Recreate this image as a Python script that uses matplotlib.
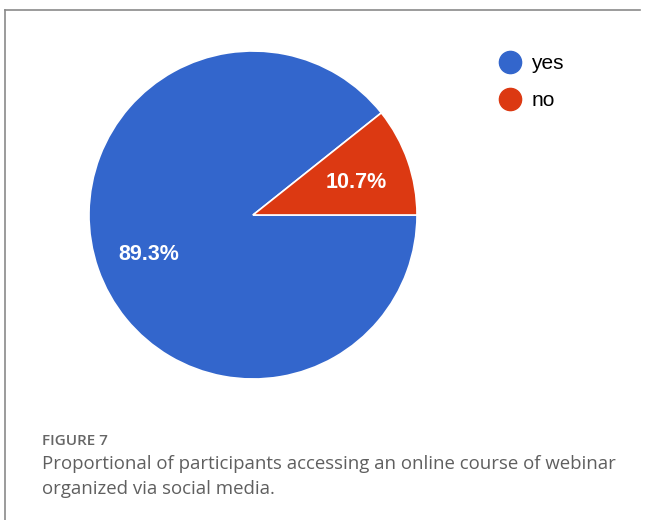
import matplotlib
matplotlib.use("Agg")
import matplotlib.pyplot as plt
from matplotlib.lines import Line2D

labels = ["yes", "no"]
shares = [89.3, 10.7]
colors = ["#3366cc", "#dc3912"]

W, H = 646, 520
fig = plt.figure(figsize=(W / 100, H / 100), dpi=100)

# pie: centre (253, 215) px, radius 164 px
cx, cy, r = 253, 215, 164
ax = fig.add_axes([(cx - r) / W, (H - cy - r) / H, 2 * r / W, 2 * r / H])
wedges, texts, autotexts = ax.pie(
    shares, colors=colors, startangle=360 * shares[1] / 100, counterclock=True,
    autopct="%.1f%%", pctdistance=0.67,
    wedgeprops=dict(edgecolor="white", linewidth=1.2),
    textprops=dict(color="white", fontsize=15.5, fontweight="bold",
                   family="Liberation Sans"))
for t in autotexts:
    x, y = t.get_position()
    t.set_position((x, y - 0.02))
ax.set_xlim(-1.0, 1.0)
ax.set_ylim(-1.0, 1.0)
ax.set_aspect("equal")

# legend with round markers
handles = [Line2D([], [], marker="o", linestyle="none", markersize=16,
                  markerfacecolor=c, markeredgecolor=c) for c in colors]
fig.legend(handles, labels, loc="upper left", bbox_to_anchor=(500 / W, 1 - 54 / H),
           frameon=False, handlelength=1.0, handletextpad=0.5, labelspacing=0.88,
           borderpad=0, borderaxespad=0,
           prop=dict(family="Liberation Sans", size=15))

# box lines (top and left only)
fig.add_artist(Line2D([5 / W, 640 / W], [1 - 10 / H, 1 - 10 / H], color="#8a8a8a", lw=1.2))
fig.add_artist(Line2D([5 / W, 5 / W], [1 - 10 / H, 0], color="#8a8a8a", lw=1.2))

# caption
fig.text(42 / W, 1 - 445 / H, "FIGURE 7", color="#666666", fontsize=11,
         family="Open Sans", fontweight="semibold", va="baseline")
fig.text(42 / W, 1 - 469 / H, "Proportional of participants accessing an online course of webinar",
         color="#5f5f5f", fontsize=13.4, family="Open Sans", va="baseline")
fig.text(42 / W, 1 - 494 / H, "organized via social media.",
         color="#5f5f5f", fontsize=13.4, family="Open Sans", va="baseline")

fig.savefig("out.png", dpi=100)
